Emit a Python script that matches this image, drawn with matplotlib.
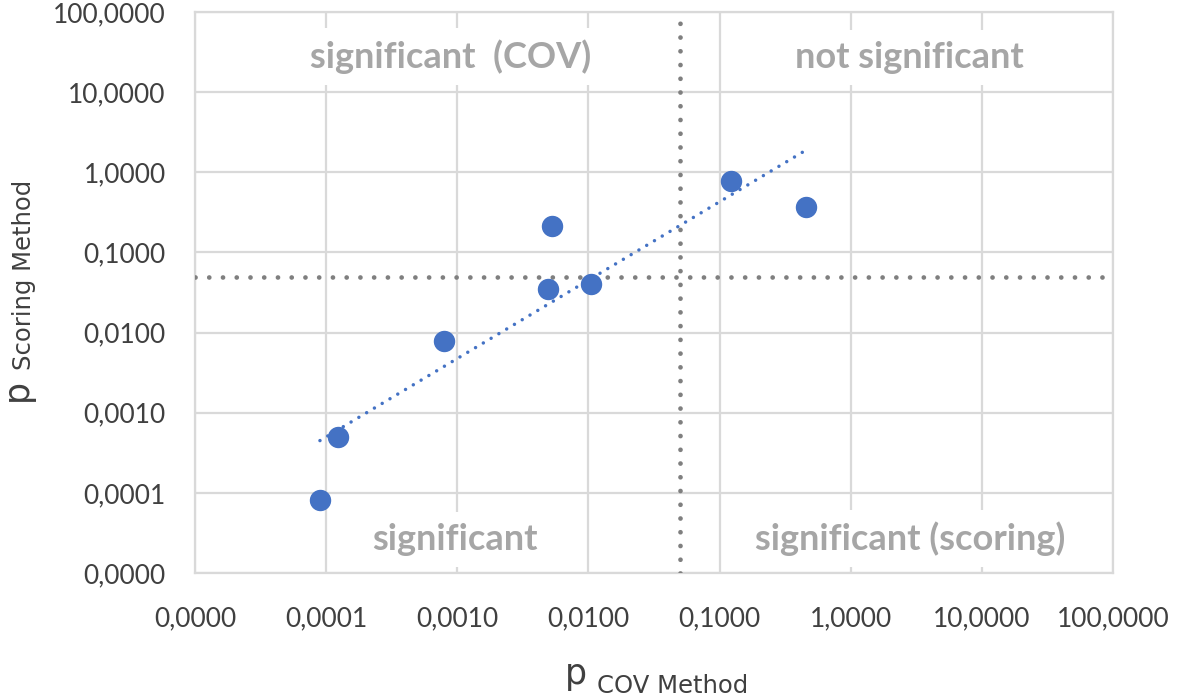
import numpy as np
import matplotlib
matplotlib.use("Agg")
import matplotlib.pyplot as plt
from matplotlib.ticker import FixedLocator, FixedFormatter, NullLocator

# ---- data ----
x_cov = [8.97e-5, 1.23e-4, 7.9e-4, 4.93e-3, 5.28e-3, 1.05e-2, 0.1225, 0.458]
y_scoring = [8.2e-5, 5.0e-4, 7.9e-3, 0.0345, 0.211, 0.0398, 0.772, 0.365]
threshold = 0.05
tick_values = [1e-5, 1e-4, 1e-3, 1e-2, 1e-1, 1, 10, 100]
tick_labels = ["0,0000", "0,0001", "0,0010", "0,0100", "0,1000",
               "1,0000", "10,0000", "100,0000"]
region_labels = ["significant  (COV)", "not significant",
                 "significant", "significant (scoring)"]

W, H = 1181, 698
fig = plt.figure(figsize=(W / 100, H / 100), dpi=100)
ax = fig.add_axes([195 / W, 1 - 573 / H, (1113 - 195) / W, (573 - 12) / H])
ax.set_xscale("log")
ax.set_yscale("log")
ax.set_xlim(tick_values[0], tick_values[-1])
ax.set_ylim(tick_values[0], tick_values[-1])

grid_c = "#d9d9d9"
for axis in (ax.xaxis, ax.yaxis):
    axis.set_major_locator(FixedLocator(tick_values))
    axis.set_major_formatter(FixedFormatter(tick_labels))
    axis.set_minor_locator(NullLocator())
ax.grid(True, color=grid_c, lw=1.6, zorder=0)
ax.set_axisbelow(True)
for s in ax.spines.values():
    s.set_color(grid_c)
    s.set_linewidth(1.6)

ax.tick_params(axis="both", length=0, labelsize=19, labelcolor="#404040")
ax.tick_params(axis="x", pad=24)
ax.tick_params(axis="y", pad=21)
for lab in ax.get_xticklabels() + ax.get_yticklabels():
    lab.set_fontfamily("Lato")

# region labels with white boxes (hide gridlines)
pos = [(0.278, 0.900), (0.778, 0.900), (0.283, 0.041), (0.779, 0.041)]
for (px, py), t in zip(pos, region_labels):
    ax.text(px, py, t, transform=ax.transAxes, ha="center", va="baseline",
            fontsize=26, fontweight="bold", family="Lato", color="#a6a6a6",
            bbox=dict(facecolor="white", edgecolor="none", pad=8),
            zorder=2)

# threshold lines
ax.axvline(threshold, color="#7f7f7f", lw=3.4, linestyle=(0, (0.01, 2.9)),
           dash_capstyle="round", zorder=3)
ax.axhline(threshold, color="#7f7f7f", lw=3.4, linestyle=(0, (0.01, 2.9)),
           dash_capstyle="round", zorder=3)

# power trend line (least squares in log space)
lx, ly = np.log10(x_cov), np.log10(y_scoring)
coef = np.polyfit(lx, ly, 1)
xs = np.logspace(lx.min(), lx.max(), 200)
ys = 10 ** np.polyval(coef, np.log10(xs))
ax.plot(xs, ys, color="#4472c4", lw=2.5, linestyle=(0, (0.01, 2.6)),
        dash_capstyle="round", zorder=4)

ax.plot(x_cov, y_scoring, "o", ms=14.4, color="#4472c4", mec="#4472c4",
        zorder=5)

# axis labels: "p" with subscript
lab_c = "#404040"
fig.text(565 / W, 1 - 684 / H, "p", ha="left", va="baseline",
         fontsize=25, family="DejaVu Sans", color=lab_c)
fig.text(597 / W, 1 - 693 / H, "COV Method", ha="left", va="baseline",
         fontsize=17.5, family="DejaVu Sans", color=lab_c)
fig.text(17 / W, 1 - 390 / H, "p", ha="center", va="center", rotation=90,
         fontsize=25, family="DejaVu Sans", color=lab_c)
fig.text(24 / W, 1 - 275 / H, "Scoring Method", ha="center", va="center",
         rotation=90, fontsize=17.5, family="DejaVu Sans", color=lab_c)

fig.savefig("out.png", dpi=100)
